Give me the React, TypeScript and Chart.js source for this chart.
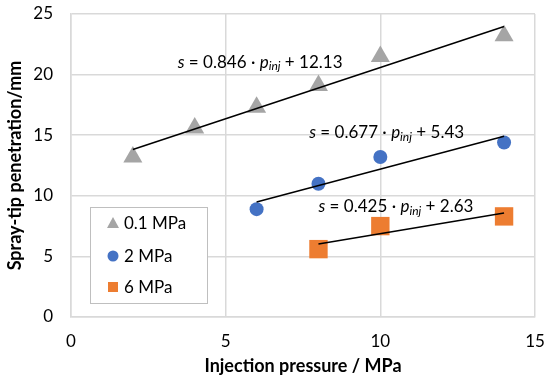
import React, { useEffect, useRef } from "react";
import { Chart, registerables } from "chart.js";

Chart.register(...registerables);

const FONT = "Lato, 'Open Sans', sans-serif";

const series01X = [2, 4, 6, 8, 10, 14];
const series01Y = [13.2, 15.6, 17.3, 19.1, 21.5, 23.2];
const series2X = [6, 8, 10, 14];
const series2Y = [8.9, 11.0, 13.2, 14.4];
const series6X = [8, 10, 14];
const series6Y = [5.6, 7.5, 8.3];

const trend01X = [2, 14];
const trend01Y = [13.82, 23.97];
const trend2X = [6, 14];
const trend2Y = [9.49, 14.91];
const trend6X = [8, 14];
const trend6Y = [6.03, 8.58];

const seriesLabels = ["0.1 MPa", "2 MPa", "6 MPa"];
const seriesColors = ["#A5A5A5", "#4472C4", "#ED7D31"];
const seriesStyles = ["triangle", "circle", "rect"];

const eqSlopes = ["0.846", "0.677", "0.425"];
const eqIntercepts = ["12.13", "5.43", "2.63"];
const eqAnchorX = [3.45, 7.7, 8.0];
const eqAnchorY = [21.0, 15.2, 9.1];

const xTitle = "Injection pressure / MPa";
const yTitle = "Spray-tip penetration/mm";

const toPts = (xs: number[], ys: number[]) => xs.map((x, i) => ({ x, y: ys[i] }));

const annotPlugin = {
  id: "annot",
  afterDatasetsDraw(chart: any) {
    const ctx = chart.ctx;
    const xs = chart.scales.x;
    const ys = chart.scales.y;
    const size = 17;
    ctx.save();
    ctx.fillStyle = "#000";
    ctx.textBaseline = "middle";
    ctx.textAlign = "left";
    for (let i = 0; i < eqSlopes.length; i++) {
      let x = xs.getPixelForValue(eqAnchorX[i]);
      const y = ys.getPixelForValue(eqAnchorY[i]);
      const parts: [string, string, number, number][] = [
        ["s", "italic", size, 0],
        [" = " + eqSlopes[i] + " \u00b7 ", "normal", size, 0],
        ["p", "italic", size, 0],
        ["inj", "italic", 12, 4],
        [" + " + eqIntercepts[i], "normal", size, 0],
      ];
      for (const [t, st, fs, dy] of parts) {
        ctx.font = `${st} ${fs}px ${FONT}`;
        ctx.fillText(t, x, y + dy);
        x += ctx.measureText(t).width;
      }
    }

    const lx = 90, ly = 207, lw = 117, lh = 96;
    ctx.fillStyle = "#fff";
    ctx.fillRect(lx, ly, lw, lh);
    ctx.strokeStyle = "#BFBFBF";
    ctx.lineWidth = 1;
    ctx.strokeRect(lx + 0.5, ly + 0.5, lw, lh);
    const rows = [223, 256, 287];
    const mx = 113;
    for (let i = 0; i < 3; i++) {
      const cy = rows[i];
      ctx.fillStyle = seriesColors[i];
      ctx.beginPath();
      if (i === 0) {
        ctx.moveTo(mx, cy - 6);
        ctx.lineTo(mx + 6, cy + 5);
        ctx.lineTo(mx - 6, cy + 5);
        ctx.closePath();
      } else if (i === 1) {
        ctx.arc(mx, cy, 5.5, 0, Math.PI * 2);
      } else {
        ctx.rect(mx - 5, cy - 5, 10, 10);
      }
      ctx.fill();
      ctx.fillStyle = "#000";
      ctx.font = `normal 17px ${FONT}`;
      ctx.fillText(seriesLabels[i], 124, cy + 1);
    }
    ctx.restore();
  },
};

export default function App() {
  const ref = useRef<HTMLCanvasElement | null>(null);
  useEffect(() => {
    if (!ref.current) return;
    const scatterDs = [0, 1, 2].map((i) => ({
      type: "scatter" as const,
      label: seriesLabels[i],
      data: toPts([series01X, series2X, series6X][i], [series01Y, series2Y, series6Y][i]),
      backgroundColor: seriesColors[i],
      borderColor: seriesColors[i],
      borderWidth: 0,
      pointStyle: seriesStyles[i],
      pointRadius: [11, 7, 13][i],
      order: 1,
    }));
    const trendDs = [0, 1, 2].map((i) => ({
      type: "line" as const,
      label: "trend" + i,
      data: toPts([trend01X, trend2X, trend6X][i], [trend01Y, trend2Y, trend6Y][i]),
      borderColor: "#000",
      borderWidth: 1.5,
      pointRadius: 0,
      fill: false,
      order: 0,
    }));
    const chart = new Chart(ref.current, {
      type: "scatter",
      data: { datasets: [...scatterDs, ...trendDs] as any },
      options: {
        animation: false,
        responsive: false,
        maintainAspectRatio: false,
        layout: { padding: { left: 0, top: 14, right: 15, bottom: 0 } },
        plugins: { legend: { display: false }, tooltip: { enabled: false } },
        scales: {
          x: {
            type: "linear",
            min: 0,
            max: 15,
            afterFit: (s: any) => { s.height = 63; s.paddingLeft = 0; s.paddingRight = 0; },
            ticks: { stepSize: 5, color: "#000", padding: 14, font: { family: FONT, size: 17 } },
            grid: { color: "#D9D9D9", drawTicks: false, lineWidth: 1.5 },
            border: { color: "#D9D9D9", width: 1.5 },
            title: { display: true, text: xTitle, color: "#000", font: { family: FONT, size: 18, weight: "bold" }, padding: { top: 0, bottom: 3 } },
          },
          y: {
            type: "linear",
            min: 0,
            max: 25,
            afterFit: (s: any) => { s.width = 71; s.paddingTop = 0; s.paddingBottom = 0; },
            ticks: { stepSize: 5, color: "#000", padding: 18, font: { family: FONT, size: 17 } },
            grid: { color: "#D9D9D9", drawTicks: false, lineWidth: 1.5 },
            border: { color: "#D9D9D9", width: 1.5 },
            title: { display: true, text: yTitle, color: "#000", font: { family: FONT, size: 18, weight: "bold" }, padding: { top: 4, bottom: 0 } },
          },
        },
      },
      plugins: [annotPlugin],
    });
    return () => chart.destroy();
  }, []);
  return (
    <div style={{ position: "fixed", left: 0, top: 0, width: 550, height: 380, background: "#fff" }}>
      <canvas ref={ref} width={550} height={380} style={{ width: 550, height: 380 }} />
    </div>
  );
}
